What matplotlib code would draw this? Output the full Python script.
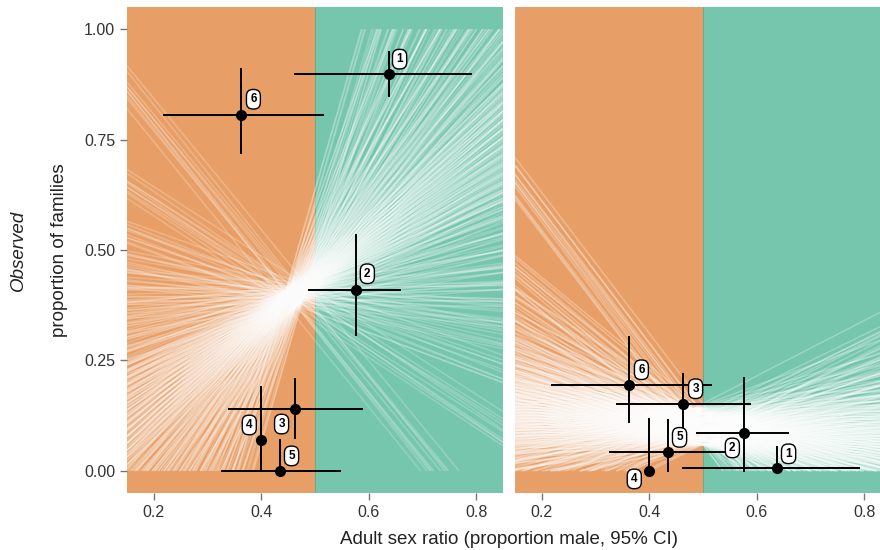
import numpy as np
import matplotlib
matplotlib.use("Agg")
import matplotlib.pyplot as plt
from matplotlib.collections import LineCollection

plt.rcParams['font.family'] = ['Liberation Sans', 'DejaVu Sans']

# family estimates (same ASR in both panels)
families = ['1', '2', '3', '4', '5', '6']
asr = [0.637, 0.577, 0.462, 0.400, 0.434, 0.363]
asr_lo = [0.463, 0.488, 0.339, np.nan, 0.327, 0.219]
asr_hi = [0.790, 0.659, 0.588, np.nan, 0.546, 0.514]

# left panel: observed proportions
obs_left = [0.898, 0.410, 0.140, 0.070, 0.000, 0.805]
obs_left_lo = [0.848, 0.307, 0.075, 0.000, 0.000, 0.720]
obs_left_hi = [0.948, 0.534, 0.209, 0.189, 0.070, 0.909]

# right panel
obs_right = [0.007, 0.086, 0.152, 0.000, 0.042, 0.195]
obs_right_lo = [0.000, 0.000, 0.090, 0.000, 0.000, 0.111]
obs_right_hi = [0.055, 0.210, 0.220, 0.118, 0.116, 0.302]

# posterior regression lines: crossing points, slopes, small slope shifts per crossing point
necks_left = [(0.44, 0.385), (0.45, 0.400), (0.46, 0.390), (0.47, 0.410),
              (0.48, 0.400), (0.455, 0.415), (0.465, 0.375), (0.475, 0.395),
              (0.445, 0.405), (0.485, 0.420)]
shift_left = [0.0, 0.023, -0.017, 0.031, -0.029, 0.011, -0.006, 0.042, -0.038, 0.017]
slopes_left = [-1.5, -0.8, -0.45, -0.25, -0.12, 0.0, 0.1,
               0.2, 0.3, 0.4, 0.5, 0.55, 0.6, 0.65, 0.7, 0.75, 0.8,
               0.85, 0.9, 0.95, 1.0, 1.05, 1.1, 1.15, 1.2, 1.3, 1.4,
               1.5, 1.6, 1.75, 1.9, 2.1, 2.3, 2.6, 3.0, 3.5, 4.2]

necks_right = [(0.50, 0.060), (0.49, 0.075), (0.51, 0.090), (0.50, 0.100),
               (0.48, 0.110), (0.52, 0.120), (0.50, 0.130), (0.49, 0.085),
               (0.51, 0.068), (0.50, 0.115), (0.52, 0.095), (0.48, 0.140)]
shift_right = [0.0, 0.013, -0.011, 0.021, -0.019, 0.007, -0.004, 0.016,
               -0.024, 0.009, -0.014, 0.026]
slopes_right = [-1.6, -1.0, -0.8, -0.65, -0.55, -0.48, -0.42, -0.37, -0.33,
                -0.3, -0.27, -0.24, -0.22, -0.2, -0.18, -0.16, -0.14, -0.12, -0.1,
                -0.08, -0.06, -0.04, -0.02, 0.0, 0.02, 0.04, 0.06, 0.09, 0.12,
                0.16, 0.2, 0.26, 0.33, 0.42, 0.6]

# label offsets in pixels
lab_off_left = [(11, 15), (11, 16), (-13, -15), (-12, 15), (12, 15), (12, 16)]
lab_off_right = [(12, 14), (-12, -15), (13, 15), (-15, -8), (12, 15), (12, 15)]

orange = (232/255, 159/255, 103/255)
green = (118/255, 197/255, 173/255)
XLIM = (0.15, 0.85)
YLIM = (-0.05, 1.05)


def fan(necks, shifts, slopes):
    segs = []
    for (nx, ny), sh in zip(necks, shifts):
        for b in slopes:
            b = b + sh
            a = ny - b * nx
            x0, x1 = XLIM
            if b != 0:
                xa, xb = -a / b, (1 - a) / b
                x0 = max(x0, min(xa, xb))
                x1 = min(x1, max(xa, xb))
            if x1 > x0:
                segs.append([(x0, a + b * x0), (x1, a + b * x1)])
    return segs


def panel(ax, obs, lo, hi, necks, shifts, slopes, offs, alpha):
    ax.axvspan(XLIM[0], 0.5, color=orange, lw=0, zorder=0)
    ax.axvspan(0.5, XLIM[1], color=green, lw=0, zorder=0)
    ax.axvline(0.5, color='#62a88c', lw=0.6, zorder=0.5)
    lc = LineCollection(fan(necks, shifts, slopes), colors='white',
                        linewidths=1.1, alpha=alpha, zorder=1)
    ax.add_collection(lc)
    for i in range(len(families)):
        if not np.isnan(asr_lo[i]):
            ax.plot([asr_lo[i], asr_hi[i]], [obs[i], obs[i]], color='black', lw=1.4, zorder=3)
        ax.plot([asr[i], asr[i]], [lo[i], hi[i]], color='black', lw=1.4, zorder=3)
        ax.plot(asr[i], obs[i], 'o', color='black', ms=7, zorder=4)
        ax.annotate(families[i], (asr[i], obs[i]), xytext=offs[i], textcoords='offset pixels',
                    ha='center', va='center', fontsize=8.5, fontweight='bold', zorder=5,
                    bbox=dict(boxstyle='round,pad=0.32,rounding_size=0.55', fc='white', ec='black', lw=1))
    ax.set_xlim(*XLIM)
    ax.set_ylim(*YLIM)
    for s in ax.spines.values():
        s.set_visible(False)
    ax.set_xticks([0.2, 0.4, 0.6, 0.8])
    ax.set_xticklabels(['0.2', '0.4', '0.6', '0.8'])
    ax.tick_params(length=5, width=1, color='#777777', labelcolor='#333333', labelsize=11.5)


fig = plt.figure(figsize=(8.8, 5.5), dpi=100)
ax1 = fig.add_axes([127/880, 57/550, 376/880, 486/550])
ax2 = fig.add_axes([515/880, 57/550, 376/880, 486/550])

panel(ax1, obs_left, obs_left_lo, obs_left_hi, necks_left, shift_left, slopes_left, lab_off_left, 0.22)
panel(ax2, obs_right, obs_right_lo, obs_right_hi, necks_right, shift_right, slopes_right, lab_off_right, 0.28)

ax1.set_yticks([0, 0.25, 0.5, 0.75, 1.0])
ax1.set_yticklabels(['0.00', '0.25', '0.50', '0.75', '1.00'])
ax2.set_yticks([])

fig.text(18/880, 1 - 250/550, 'Observed', rotation=90, ha='center', va='center',
         fontsize=13.5, style='italic', color='#222222')
fig.text(60/880, 1 - 250/550, 'proportion of families', rotation=90, ha='center', va='center',
         fontsize=13.5, color='#222222')
fig.text(509/880, 1 - 540/550, 'Adult sex ratio (proportion male, 95% CI)', ha='center', va='center',
         fontsize=13.5, color='#222222')

fig.savefig('out.png', dpi=100)
